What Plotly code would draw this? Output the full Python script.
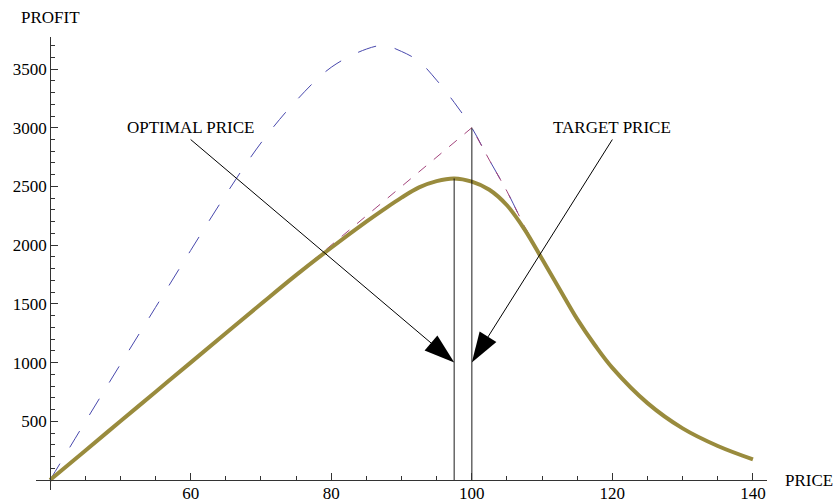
import plotly.graph_objects as go

# ---------------- data ----------------
PRICE = [40, 45, 50, 55, 60, 65, 70, 75, 80, 85, 87.5, 90, 92.5, 95, 97.5,
         100, 102.5, 105, 107.5, 110, 112.5, 115, 117.5, 120, 125, 130, 135, 140]
EXPECTED_PROFIT = [0, 250, 500, 750, 1000, 1250, 1499, 1745, 1978, 2200, 2305,
                   2405, 2492, 2546, 2568, 2541, 2472, 2340, 2135, 1882, 1625,
                   1370, 1150, 955, 655, 440, 290, 176]

DEMAND_PRICE = [40, 45, 50, 55, 60, 65, 70, 75, 80, 85, 87.5, 90, 92.5, 95,
                97.5, 100, 102.5, 105, 107.5, 110]
UNCONSTRAINED_PROFIT = [0, 495, 985, 1470, 1955, 2430, 2870, 3230, 3515, 3670,
                        3700, 3650, 3565, 3405, 3216, 3000, 2725, 2460, 2160, 1885]

CAPPED_PRICE = [40, 100, 102.5, 105, 107.5, 110]
CAPPED_PROFIT = [0, 3000, 2725, 2460, 2160, 1885]

X_TICKS = [60, 80, 100, 120, 140]
Y_TICKS = [500, 1000, 1500, 2000, 2500, 3000, 3500]

OPTIMAL_PRICE = 97.5
TARGET_PRICE = 100
ARROW_TIP_PROFIT = 1000
ARROW_TAIL_PROFIT = 2900
LABEL_PROFIT = 3000
OPTIMAL_LABEL_PRICE = 60
TARGET_LABEL_PRICE = 120
ORIGIN_PRICE = 40

# ---------------- styling ----------------
X_RANGE = [38, 142]
Y_RANGE = [-85, 3773]
FONT = "Liberation Serif, Times New Roman, serif"
BLUE = "#4848ad"
MAGENTA = "#a3447c"
GOLD = "#998b3d"
AXIS = "#333333"

fig = go.Figure()

fig.add_trace(go.Scatter(
    x=DEMAND_PRICE, y=UNCONSTRAINED_PROFIT, mode="lines",
    line=dict(color=BLUE, width=1, dash="19px,19px", shape="spline"),
    hoverinfo="skip"))
fig.add_trace(go.Scatter(
    x=CAPPED_PRICE, y=CAPPED_PROFIT, mode="lines",
    line=dict(color=MAGENTA, width=1, dash="10px,10px"),
    hoverinfo="skip"))
fig.add_trace(go.Scatter(
    x=PRICE, y=EXPECTED_PROFIT, mode="lines",
    line=dict(color=GOLD, width=4, shape="spline"),
    hoverinfo="skip"))

# vertical markers at optimal and target price
opt_top = max(EXPECTED_PROFIT)
tgt_top = CAPPED_PROFIT[CAPPED_PRICE.index(TARGET_PRICE)]
for px, top in [(OPTIMAL_PRICE, opt_top), (TARGET_PRICE, tgt_top)]:
    fig.add_trace(go.Scatter(
        x=[px, px], y=[0, top], mode="lines",
        line=dict(color="rgba(0,0,0,0.6)", width=1.5), hoverinfo="skip"))

# arrows
for tail_x, tip_x in [(OPTIMAL_LABEL_PRICE, OPTIMAL_PRICE), (TARGET_LABEL_PRICE, TARGET_PRICE)]:
    fig.add_trace(go.Scatter(
        x=[tail_x, tip_x], y=[ARROW_TAIL_PROFIT, ARROW_TIP_PROFIT],
        mode="lines+markers",
        line=dict(color="black", width=1),
        marker=dict(symbol="arrow", size=[0, 32], angleref="previous",
                    color="black", opacity=1, line=dict(width=0)),
        hoverinfo="skip", cliponaxis=False))

annotations = [
    dict(x=OPTIMAL_LABEL_PRICE, y=LABEL_PROFIT, xref="x", yref="y",
         text="OPTIMAL PRICE", showarrow=False, xanchor="center", yanchor="middle"),
    dict(x=TARGET_LABEL_PRICE, y=LABEL_PROFIT, xref="x", yref="y",
         text="TARGET PRICE", showarrow=False, xanchor="center", yanchor="middle"),
    dict(x=ORIGIN_PRICE, y=1.044, xref="x", yref="paper", text="PROFIT",
         showarrow=False, xanchor="center", yanchor="middle"),
    dict(x=1.022, y=0, xref="paper", yref="y", text="PRICE",
         showarrow=False, xanchor="left", yanchor="middle"),
]

x_pos = (0 - Y_RANGE[0]) / (Y_RANGE[1] - Y_RANGE[0])
y_pos = (ORIGIN_PRICE - X_RANGE[0]) / (X_RANGE[1] - X_RANGE[0])

fig.update_layout(
    width=834, height=502,
    margin=dict(l=36, r=67, t=37, b=12),
    paper_bgcolor="white", plot_bgcolor="white",
    showlegend=False,
    font=dict(family=FONT, size=17, color="black"),
    annotations=annotations,
    xaxis=dict(range=X_RANGE, anchor="free", position=x_pos, automargin=False,
               showgrid=False, zeroline=False,
               showline=True, linecolor=AXIS, linewidth=1,
               tickmode="array", tickvals=X_TICKS,
               ticks="inside", ticklen=7, tickwidth=1, tickcolor=AXIS,
               ticklabelstandoff=-2,
               minor=dict(dtick=5, tick0=0, ticks="inside", ticklen=4,
                          tickwidth=1, tickcolor=AXIS),
               tickfont=dict(family=FONT, size=17, color="black")),
    yaxis=dict(range=Y_RANGE, anchor="free", position=y_pos, automargin=False,
               showgrid=False, zeroline=False,
               showline=True, linecolor=AXIS, linewidth=1,
               tickmode="array", tickvals=Y_TICKS,
               ticks="inside", ticklen=7, tickwidth=1, tickcolor=AXIS,
               minor=dict(dtick=100, tick0=0, ticks="inside", ticklen=4,
                          tickwidth=1, tickcolor=AXIS),
               tickfont=dict(family=FONT, size=17, color="black")),
)

fig.write_html(
    "out.html",
    config={"displayModeBar": False},
    post_script="document.body.style.margin='0';document.body.style.overflow='hidden';",
)
